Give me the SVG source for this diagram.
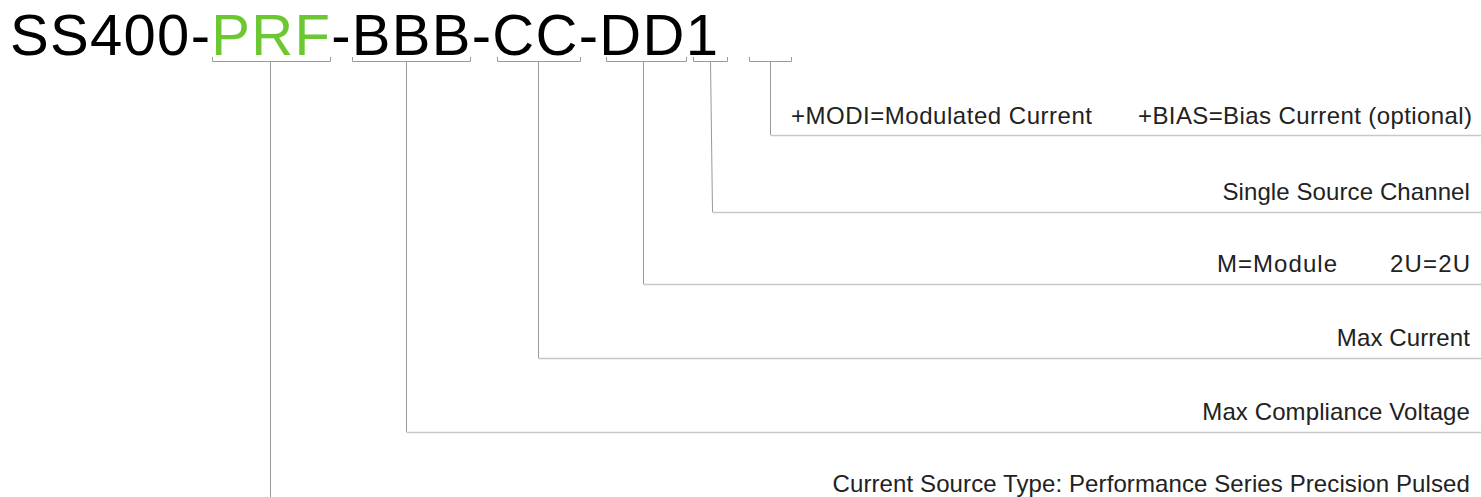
<svg xmlns="http://www.w3.org/2000/svg" width="1481" height="497" viewBox="0 0 1481 497">
<style>
.title{font-family:"Liberation Sans",Arial,sans-serif;font-size:58px;letter-spacing:1.3px;fill:#000}
.green{fill:#6cc832}
.lbl{font-family:"Liberation Sans",Arial,sans-serif;font-size:24px;letter-spacing:0.1px;fill:#222;text-anchor:end}
.lbs{font-family:"Liberation Sans",Arial,sans-serif;font-size:24px;fill:#222}
.br{fill:none;stroke:#999;stroke-width:1}
.v{fill:none;stroke:#999;stroke-width:1}
.h{fill:none;stroke:#c8c8c8;stroke-width:1.5}
</style>
<rect width="1481" height="497" fill="#fff"/>
<g id="title">
<text class="title" x="10" y="55">SS400-<tspan class="green">PRF</tspan>-BBB-CC-DD1</text>
</g>
<g id="brackets">
<path class="br" d="M212.5 57v4.5h118v-4.5"/>
<path class="br" d="M352.5 57v4.5h118v-4.5"/>
<path class="br" d="M497.5 57v4.5h83v-4.5"/>
<path class="br" d="M606.5 57v4.5h80v-4.5"/>
<path class="br" d="M693.5 57v4.5h34v-4.5"/>
<path class="br" d="M749.5 57v4.5h42v-4.5"/>
</g>
<g id="connectors">
<path class="v" d="M270.5 61.5V497"/>
<path class="v" d="M406.5 61.5V432"/>
<path class="h" d="M406.5 432.5H1481"/>
<path class="v" d="M538.5 61.5V358"/>
<path class="h" d="M538.5 358.5H1481"/>
<path class="v" d="M643.5 61.5V284"/>
<path class="h" d="M643.5 284.5H1481"/>
<path class="v" d="M710.5 61.5L712.5 212"/>
<path class="h" d="M712.5 212.5H1481"/>
<path class="v" d="M770.5 61.5V135"/>
<path class="h" d="M770.5 135.5H1481"/>
</g>
<g id="label-modi">
<text class="lbs" x="791" y="124" textLength="301" lengthAdjust="spacing">+MODI=Modulated Current</text>
<text class="lbs" x="1138" y="124" textLength="334" lengthAdjust="spacing">+BIAS=Bias Current (optional)</text>
</g>
<g id="label-channel">
<text class="lbl" x="1470" y="200">Single Source Channel</text>
</g>
<g id="label-module">
<text class="lbs" x="1217" y="272" textLength="120" lengthAdjust="spacing">M=Module</text>
<text class="lbs" x="1390" y="272" textLength="80" lengthAdjust="spacing">2U=2U</text>
</g>
<g id="label-current">
<text class="lbl" x="1470" y="346">Max Current</text>
</g>
<g id="label-voltage">
<text class="lbl" x="1470" y="420">Max Compliance Voltage</text>
</g>
<g id="label-type">
<text class="lbl" x="1470" y="492">Current Source Type: Performance Series Precision Pulsed</text>
</g>
</svg>
